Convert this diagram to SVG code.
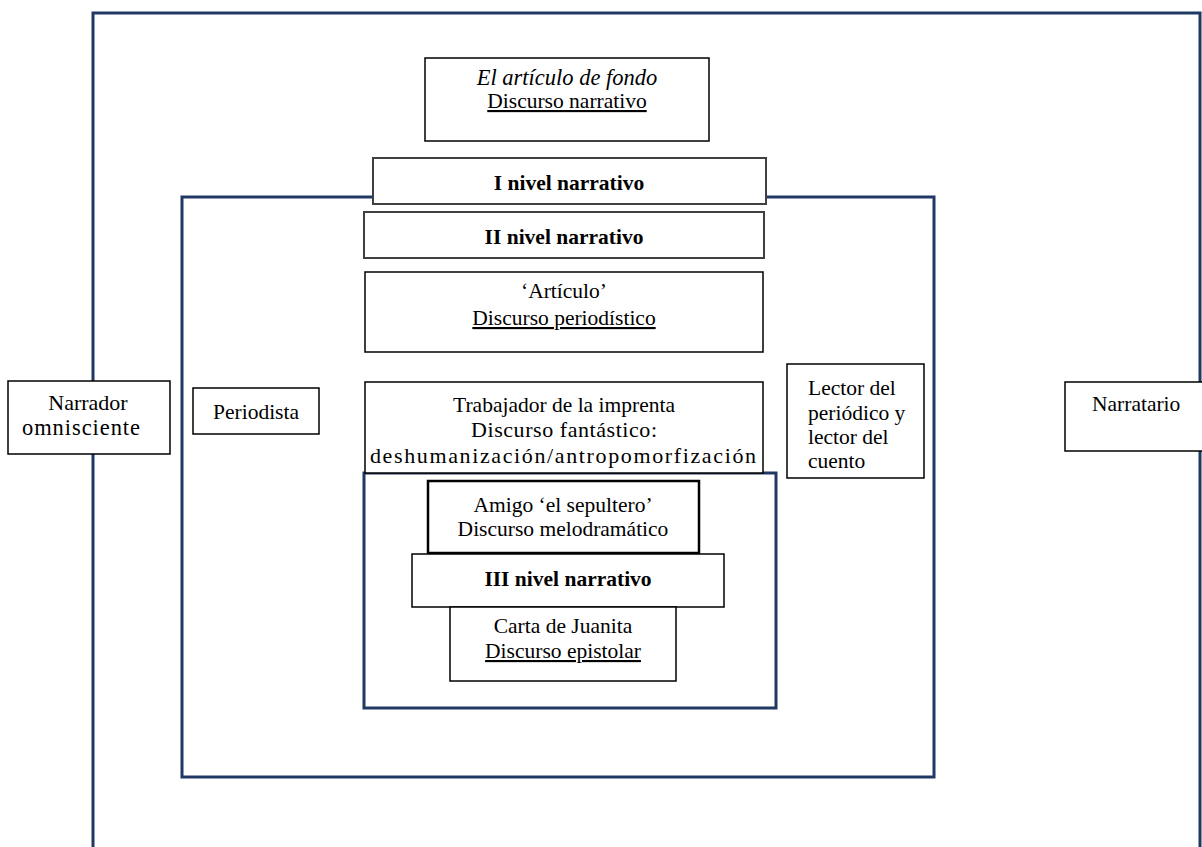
<svg xmlns="http://www.w3.org/2000/svg" width="1202" height="847" viewBox="0 0 1202 847">
<style>
.frame{fill:none;stroke:#203864;stroke-width:3}
.box{fill:#fff;stroke:#000;stroke-width:1.5}
.gbox{fill:#fff;stroke:#404040;stroke-width:2}
.tbox{fill:#fff;stroke:#000;stroke-width:2.5}
.c{text-anchor:middle}
.b{font-weight:bold}
.i{font-style:italic}
.u{text-decoration:underline}
</style>
<rect width="1202" height="847" fill="#fff"/>
<g id="frames">
<path class="frame" d="M93,847 V13 H1200 V847"/>
<rect class="frame" x="182" y="197" width="752" height="580"/>
<rect class="frame" x="364" y="473" width="412" height="235"/>
</g>
<g id="connectors"></g>
<g font-family="'Liberation Serif', 'Times New Roman', serif" font-size="21.5" fill="#000">
<g id="n-articulo-fondo">
<rect class="box" x="425" y="58" width="284" height="83"/>
<text class="c i" x="567" y="85" font-size="22.5">El artículo de fondo</text>
<text class="c u" x="567" y="108">Discurso narrativo</text>
</g>
<g id="n-nivel1">
<rect class="gbox" x="373" y="158" width="393" height="46"/>
<text class="c b" x="569" y="190">I nivel narrativo</text>
</g>
<g id="n-nivel2">
<rect class="gbox" x="364" y="212" width="400" height="46"/>
<text class="c b" x="564" y="244">II nivel narrativo</text>
</g>
<g id="n-articulo">
<rect class="box" x="365" y="272" width="398" height="80"/>
<text class="c" x="564" y="298">‘Artículo’</text>
<text class="c u" x="564" y="325">Discurso periodístico</text>
</g>
<g id="n-trabajador">
<rect class="box" x="365" y="382" width="398" height="91"/>
<text class="c" x="564" y="412">Trabajador de la imprenta</text>
<text class="c" x="564" y="437" font-size="22" textLength="186" lengthAdjust="spacing">Discurso fantástico:</text>
<text class="c" x="563" y="463" font-size="22" textLength="386" lengthAdjust="spacing">deshumanización/antropomorfización</text>
</g>
<g id="n-amigo">
<rect class="tbox" x="428" y="481" width="271" height="72"/>
<text class="c" x="563" y="512">Amigo ‘el sepultero’</text>
<text class="c" x="563" y="536">Discurso melodramático</text>
</g>
<g id="n-nivel3">
<rect class="box" x="412" y="554" width="312" height="53"/>
<text class="c b" x="568" y="586">III nivel narrativo</text>
</g>
<g id="n-carta">
<rect class="box" x="450" y="607" width="226" height="74"/>
<text class="c" x="563" y="633">Carta de Juanita</text>
<text class="c u" x="563" y="658">Discurso epistolar</text>
</g>
<g id="n-narrador">
<rect class="box" x="8" y="381" width="162" height="73"/>
<text class="c" x="88" y="410" font-size="22">Narrador</text>
<text class="c" x="81" y="435" font-size="22.5" textLength="118" lengthAdjust="spacing">omnisciente</text>
</g>
<g id="n-periodista">
<rect class="box" x="193" y="388" width="126" height="46"/>
<text class="c" x="256" y="419">Periodista</text>
</g>
<g id="n-lector">
<rect class="box" x="787" y="364" width="137" height="114"/>
<text x="808" y="395">Lector del</text>
<text x="808" y="420">periódico y</text>
<text x="808" y="444">lector del</text>
<text x="808" y="468">cuento</text>
</g>
<g id="n-narratario">
<rect class="box" x="1065" y="382" width="140" height="69"/>
<text x="1092" y="411">Narratario</text>
</g>
</g>
</svg>
